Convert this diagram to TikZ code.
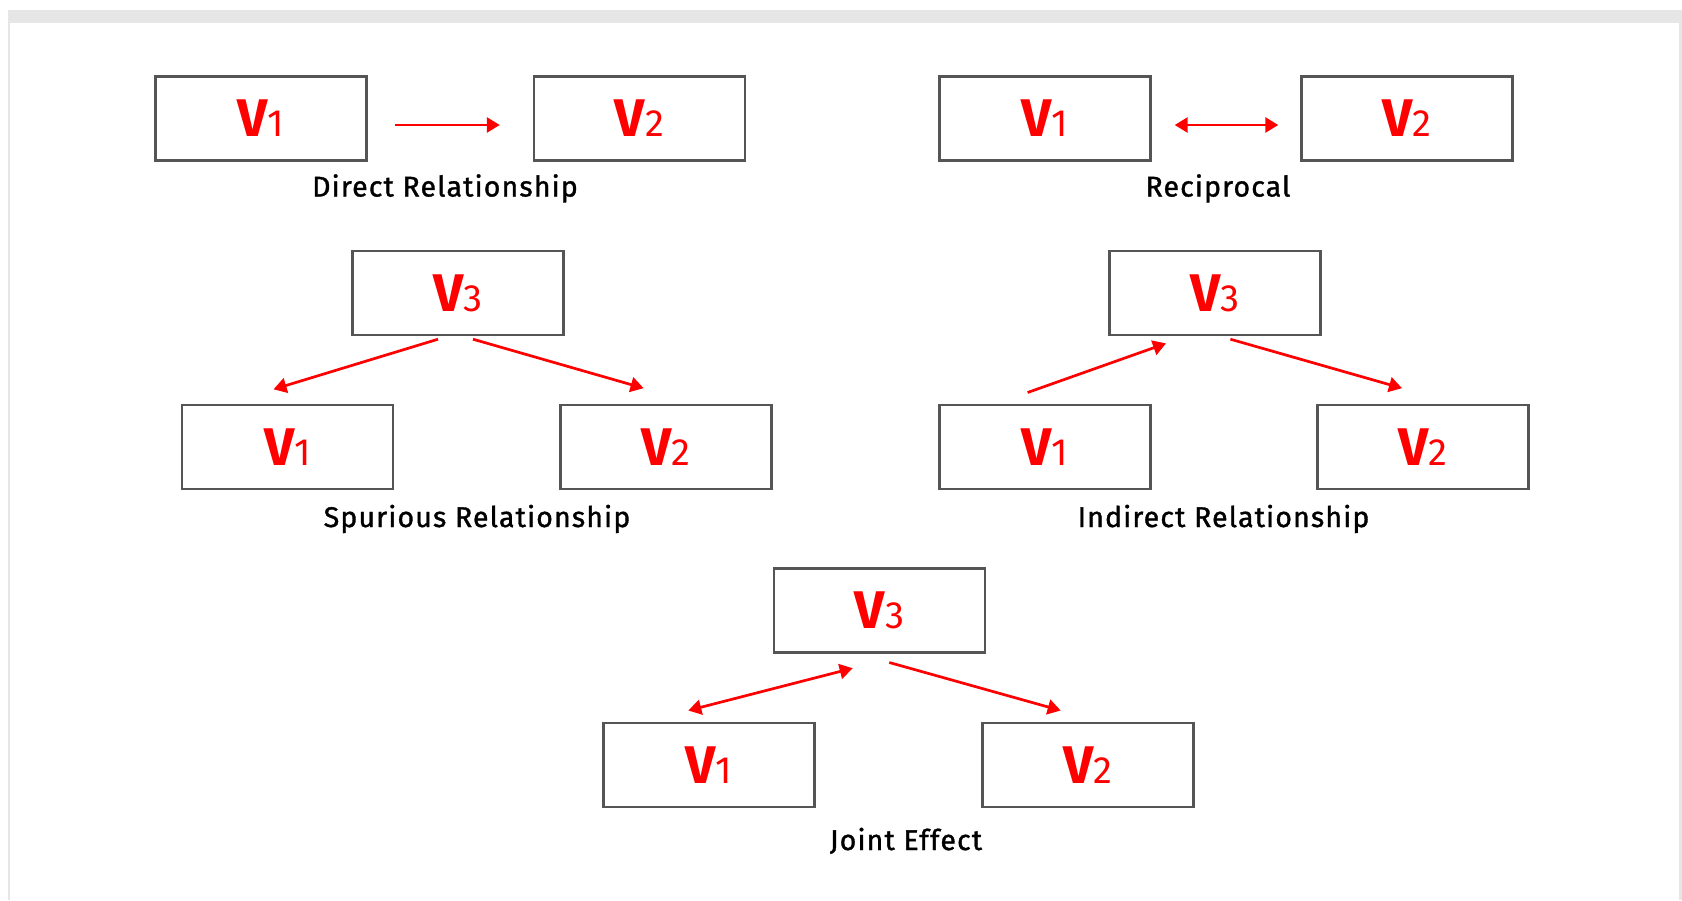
\documentclass[tikz,border=0pt]{standalone}
\usepackage{fontspec}
\setmainfont{Fira Sans}
\newfontfamily\capfont[FakeBold=1.2,LetterSpace=4]{Fira Sans}
\usetikzlibrary{arrows.meta,calc}
\definecolor{boxgray}{HTML}{555555}
\definecolor{framegray}{HTML}{E6E6E6}
\definecolor{vred}{HTML}{FF0000}
\newcommand\vlab[1]{{\fontsize{53}{53}\selectfont\bfseries V}{\fontsize{38}{38}\selectfont #1}}
\begin{document}
\begin{tikzpicture}[x=1pt,y=-1pt,
  vbox/.style={draw=boxgray, line width=2.4pt, minimum width=211pt, minimum height=84pt, inner sep=0pt, fill=white, text=vred},
  captext/.style={anchor=base, font=\capfont\fontsize{28.5}{28.5}\selectfont, text=black, inner sep=0pt},
  rel/.style={draw=vred, line width=2.7pt, -{Triangle[length=13pt,width=15pt]}},
  birel/.style={draw=vred, line width=2.7pt, {Triangle[length=13pt,width=15pt]}-{Triangle[length=13pt,width=15pt]}}]
\useasboundingbox (0,0) rectangle (1682,900);
\fill[framegray] (8,10) rectangle (1682,900);
\fill[white] (10,23) rectangle (1679,900);
% Direct
\node[vbox] (d1) at (261,118.5) {\vlab{1}};
\node[vbox] (d2) at (639.5,118.5) {\vlab{2}};
\draw[rel] ($(d1.east)+(27.5,6.5)$) -- ($(d2.west)+(-33,6.5)$);
\node[captext] (dc) at (445,196.5) {Direct Relationship};
% Reciprocal
\node[vbox] (r1) at (1045,118.5) {\vlab{1}};
\node[vbox] (r2) at (1407,118.5) {\vlab{2}};
\draw[birel] ($(r1.east)+(23,6.5)$) -- ($(r2.west)+(-22,6.5)$);
\node[captext] (rc) at (1218,196.5) {Reciprocal};
% Spurious
\node[vbox] (s3) at (458,293) {\vlab{3}};
\node[vbox] (s1) at (287.5,447) {\vlab{1}};
\node[vbox] (s2) at (666,447) {\vlab{2}};
\draw[rel] ($(s3.south)+(-20,3)$) -- ($(s1.north)+(-14,-14.5)$);
\draw[rel] ($(s3.south)+(15,3)$) -- ($(s2.north)+(-22.4,-15.6)$);
\node[captext] (sc) at (477,527) {Spurious Relationship};
% Indirect
\node[vbox] (i3) at (1215,293) {\vlab{3}};
\node[vbox] (i1) at (1045,447) {\vlab{1}};
\node[vbox] (i2) at (1423,447) {\vlab{2}};
\draw[rel] ($(i1.north)+(-17.4,-11.3)$) -- ($(i3.south)+(-49,7.2)$);
\draw[rel] ($(i3.south)+(15.4,3)$) -- ($(i2.north)+(-21,-15.6)$);
\node[captext] (ic) at (1223.5,527) {Indirect Relationship};
% Joint
\node[vbox] (j3) at (879.5,610.3) {\vlab{3}};
\node[vbox] (j1) at (709,765) {\vlab{1}};
\node[vbox] (j2) at (1088,765) {\vlab{2}};
\draw[birel] ($(j1.north)+(-20.7,-11.3)$) -- ($(j3.south)+(-26.8,14.7)$);
\draw[rel] ($(j3.south)+(9.8,9)$) -- ($(j2.north)+(-27.3,-11.3)$);
\node[captext] (jc) at (906,850) {Joint Effect};
\end{tikzpicture}
\end{document}
